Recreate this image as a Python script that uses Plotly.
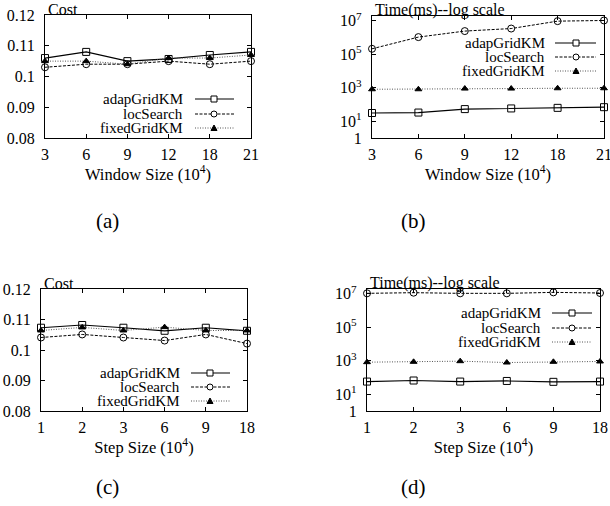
import plotly.graph_objects as go

W, H = 610, 506

# ---------------- data ----------------
window_sizes = ["3", "6", "9", "12", "18", "21"]
step_sizes = ["1", "2", "3", "6", "9", "18"]
series_names = ["adapGridKM", "locSearch", "fixedGridKM"]

cost_window_adap = [0.106, 0.108, 0.105, 0.1057, 0.107, 0.108]
cost_window_loc = [0.103, 0.104, 0.104, 0.105, 0.104, 0.105]
cost_window_fixed = [0.105, 0.105, 0.104, 0.106, 0.106, 0.107]

time_window_adap = [31, 33, 53, 58, 63, 69]
time_window_loc = [2.1e5, 1.05e6, 2.4e6, 3.4e6, 9.4e6, 1.03e7]
time_window_fixed = [810, 810, 890, 890, 930, 930]

cost_step_adap = [0.1073, 0.1082, 0.1073, 0.1063, 0.1073, 0.1063]
cost_step_loc = [0.1041, 0.1051, 0.1041, 0.1031, 0.1051, 0.1021]
cost_step_fixed = [0.1064, 0.1074, 0.1064, 0.1075, 0.1064, 0.1064]

time_step_adap = [57, 66, 57, 62, 55, 57]
time_step_loc = [1.05e7, 1.15e7, 1.05e7, 1.05e7, 1.2e7, 1.1e7]
time_step_fixed = [820, 860, 940, 780, 860, 900]

cost_ticks = [0.08, 0.09, 0.1, 0.11, 0.12]
cost_tick_text = ["0.08", "0.09", "0.1", "0.11", "0.12"]
time_ticks = [1, 10, 1e3, 1e5, 1e7]
time_tick_text = ["1", "10<sup>1</sup>", "10<sup>3</sup>", "10<sup>5</sup>", "10<sup>7</sup>"]

# ---------------- styles ----------------
FONT = "Liberation Serif"
styles = [
    dict(color="black", width=1.2, dash="solid", symbol="square-open", msize=7),
    dict(color="black", width=1.0, dash="3px,1.5px", symbol="circle-open", msize=7),
    dict(color="#555555", width=1.0, dash="1px,1.5px", symbol="triangle-up", msize=6),
]


def px_x(x):
    return x / W


def px_y(y):
    return 1 - y / H


panels = [
    dict(box=(45, 251, 15, 138), cats=window_sizes, ylog=False,
         series=[cost_window_adap, cost_window_loc, cost_window_fixed],
         title="Cost", xtitle="Window Size (10<sup>4</sup>)", caption="(a)",
         cap=(107, 221), leg=dict(tr=185, s0=195, s1=234, m=214, rows=[99, 114, 128])),
    dict(box=(372, 604, 16, 138), cats=window_sizes, ylog=True,
         series=[time_window_adap, time_window_loc, time_window_fixed],
         title="Time(ms)--log scale", xtitle="Window Size (10<sup>4</sup>)", caption="(b)",
         cap=(413, 221), leg=dict(tr=547, s0=555, s1=596, m=576, rows=[43, 57, 71])),
    dict(box=(41, 247, 289, 411), cats=step_sizes, ylog=False,
         series=[cost_step_adap, cost_step_loc, cost_step_fixed],
         title="Cost", xtitle="Step Size (10<sup>4</sup>)", caption="(c)",
         cap=(107, 487), leg=dict(tr=182, s0=191, s1=230, m=210, rows=[373, 387, 401])),
    dict(box=(367, 600, 289, 411), cats=step_sizes, ylog=True,
         series=[time_step_adap, time_step_loc, time_step_fixed],
         title="Time(ms)--log scale", xtitle="Step Size (10<sup>4</sup>)", caption="(d)",
         cap=(413, 487), leg=dict(tr=543, s0=552, s1=592, m=572, rows=[313, 328, 342])),
]

fig = go.Figure()
layout = dict(width=W, height=H, margin=dict(l=0, r=0, t=0, b=0, autoexpand=False),
              template="none",
              paper_bgcolor="white", plot_bgcolor="white", showlegend=False,
              font=dict(family=FONT, size=15, color="black"))
annotations = []
shapes = []

for i, p in enumerate(panels, start=1):
    sfx = "" if i == 1 else str(i)
    x0, x1, y0, y1 = p["box"]
    for name, vals, st in zip(series_names, p["series"], styles):
        fig.add_trace(go.Scatter(
            x=p["cats"], y=vals, name=name, mode="lines+markers",
            xaxis="x" + sfx, yaxis="y" + sfx, cliponaxis=False,
            line=dict(color=st["color"], width=st["width"], dash=st["dash"]),
            marker=dict(symbol=st["symbol"], size=st["msize"], color="black",
                        line=dict(color="black", width=1)),
        ))
    layout["xaxis" + sfx] = dict(
        domain=[px_x(x0), px_x(x1)], anchor="y" + sfx, type="category",
        range=[0, len(p["cats"]) - 1], showgrid=False, zeroline=False, automargin=False,
        showline=True, linecolor="black", linewidth=1.2, mirror="allticks",
        ticks="inside", ticklen=4, tickcolor="black",
        tickfont=dict(family=FONT, size=16), ticklabelstandoff=2,
        title=dict(text=p["xtitle"], font=dict(family=FONT, size=16.5), standoff=2),
    )
    yax = dict(
        domain=[px_y(y1), px_y(y0)], anchor="x" + sfx, showgrid=False, automargin=False,
        zeroline=False, showline=True, linecolor="black", linewidth=1.2,
        mirror="allticks", ticks="inside", ticklen=4, tickcolor="black",
        tickfont=dict(family=FONT, size=16), ticklabelstandoff=6, tickmode="array",
    )
    if p["ylog"]:
        yax.update(type="log", range=[0, 7.28], tickvals=time_ticks, ticktext=time_tick_text)
    else:
        yax.update(range=[0.08, 0.12], tickvals=cost_ticks, ticktext=cost_tick_text)
    layout["yaxis" + sfx] = yax

    # panel title
    annotations.append(dict(text=p["title"], x=px_x(x0 + 1), y=px_y(y0 - 6),
                            xref="paper", yref="paper", xanchor="left", yanchor="middle",
                            showarrow=False, font=dict(family=FONT, size=16)))
    # caption
    annotations.append(dict(text=p["caption"], x=px_x(p["cap"][0]), y=px_y(p["cap"][1]),
                            xref="paper", yref="paper", xanchor="center", yanchor="middle",
                            showarrow=False, font=dict(family=FONT, size=21)))
    # legend
    lg = p["leg"]
    for name, st, ry in zip(series_names, styles, lg["rows"]):
        annotations.append(dict(text=name, x=px_x(lg["tr"]), y=px_y(ry),
                                xref="paper", yref="paper", xanchor="right", yanchor="middle",
                                showarrow=False, font=dict(family=FONT, size=15)))
        shapes.append(dict(type="line", xref="paper", yref="paper",
                           x0=px_x(lg["s0"]), x1=px_x(lg["s1"]), y0=px_y(ry), y1=px_y(ry),
                           line=dict(color=st["color"], width=st["width"], dash=st["dash"])))
        mx, r = lg["m"], 3
        if st["symbol"] == "square-open":
            shapes.append(dict(type="rect", xref="paper", yref="paper",
                               x0=px_x(mx - r), x1=px_x(mx + r), y0=px_y(ry + r), y1=px_y(ry - r),
                               line=dict(color="black", width=1), fillcolor="white"))
        elif st["symbol"] == "circle-open":
            shapes.append(dict(type="circle", xref="paper", yref="paper",
                               x0=px_x(mx - r), x1=px_x(mx + r), y0=px_y(ry + r), y1=px_y(ry - r),
                               line=dict(color="black", width=1), fillcolor="white"))
        else:
            path = "M {} {} L {} {} L {} {} Z".format(
                px_x(mx - r), px_y(ry + 2.5), px_x(mx + r), px_y(ry + 2.5), px_x(mx), px_y(ry - 3))
            shapes.append(dict(type="path", xref="paper", yref="paper", path=path,
                               line=dict(color="black", width=1), fillcolor="black"))

layout["annotations"] = annotations
layout["shapes"] = shapes
fig.update_layout(**layout)
fig.write_html("out.html", config={"displayModeBar": False},
               post_script="document.body.style.margin='0';document.body.style.overflow='hidden';")
